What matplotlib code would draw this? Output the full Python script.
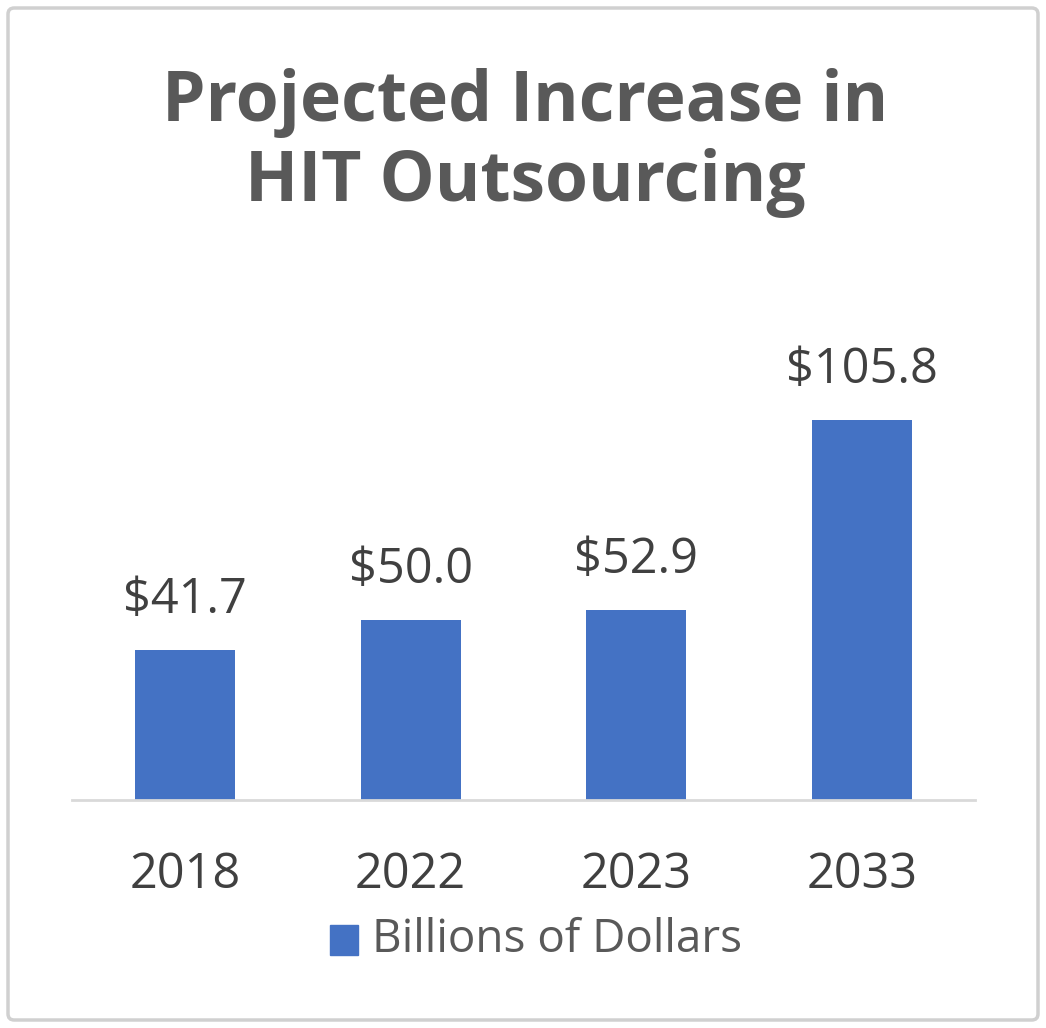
import matplotlib
matplotlib.use("Agg")
import matplotlib.pyplot as plt
from matplotlib.patches import FancyBboxPatch, Rectangle

# chart data
years = ["2018", "2022", "2023", "2033"]
values = [41.7, 50.0, 52.9, 105.8]
series_name = "Billions of Dollars"
title = "Projected Increase in\nHIT Outsourcing"

W, H = 1046, 1028
fig = plt.figure(figsize=(W / 100, H / 100), dpi=100)
fig.patch.set_facecolor("white")

bar_color = "#4472C4"
text_color = "#404040"
title_color = "#595959"
font = "Open Sans"

# outer border
border = FancyBboxPatch((8 / W, 8 / H), 1030 / W, 1012 / H,
                        boxstyle="round,pad=0,rounding_size=0.006",
                        transform=fig.transFigure, fill=False,
                        edgecolor="#D0D0D0", linewidth=2.5)
fig.patches.append(border)

# axes: x 72..975 px, y 369..800 px (from top)
ax = fig.add_axes([72 / W, 1 - 800 / H, 903 / W, 431 / H])
ax.set_xlim(-0.5, len(years) - 0.5)
ax.set_ylim(0, 120)
x = range(len(years))
bars = ax.bar(x, values, width=0.443, color=bar_color, zorder=2)

for xi, v in zip(x, values):
    ax.annotate(f"${v:.1f}", (xi, v), xytext=(0, 18), textcoords="offset points",
                ha="center", va="bottom", fontsize=35, color=text_color,
                family=font)

for s in ["top", "right", "left"]:
    ax.spines[s].set_visible(False)
ax.spines["bottom"].set_color("#D9D9D9")
ax.spines["bottom"].set_linewidth(2)
ax.set_yticks([])
ax.set_xticks(list(x))
ax.set_xticklabels(years, fontsize=35, color=text_color, family=font)
ax.tick_params(axis="x", length=0, pad=36)

fig.text(525 / W, 1 - 143 / H, title, ha="center", va="center",
         fontsize=50, fontweight="bold", color=title_color, family=font,
         linespacing=1.2)

# legend
fig.patches.append(Rectangle((330 / W, 1 - 955 / H), 28 / W, 30 / H,
                             transform=fig.transFigure, color=bar_color))
fig.text(372 / W, 1 - 940 / H, series_name, ha="left", va="center",
         fontsize=33, color=title_color, family=font)

fig.savefig("out.png", dpi=100)
